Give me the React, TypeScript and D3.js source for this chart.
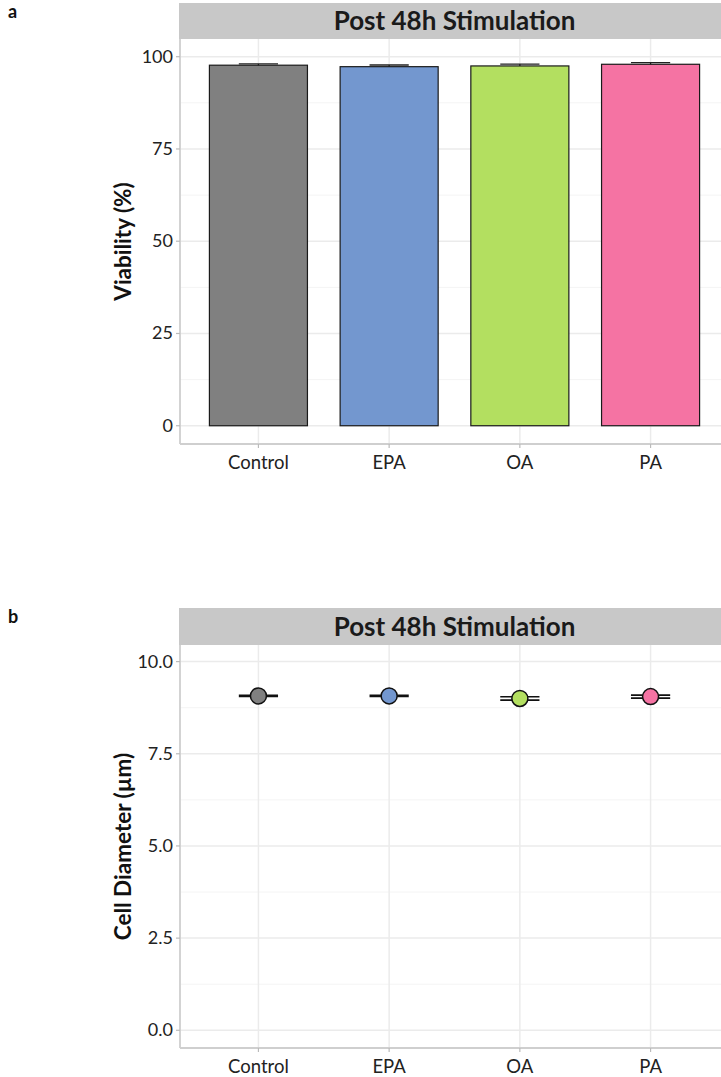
import React, { useEffect, useRef } from "react";
import * as d3 from "d3";

const groups = ["Control", "EPA", "OA", "PA"];
const colors = ["#808080", "#7397cf", "#b3df60", "#f573a3"];

const viability = [97.7, 97.3, 97.5, 97.95];
const viabilityErr = [0.35, 0.45, 0.5, 0.45];
const viabilityTicks = [0, 25, 50, 75, 100];

const diameter = [9.07, 9.07, 9.0, 9.05];
const diameterErr = [0.015, 0.015, 0.045, 0.04];
const diameterTicks = [0, 2.5, 5, 7.5, 10];

const stripTitle = "Post 48h Stimulation";
const font = "Lato, 'Open Sans', sans-serif";

export default function App() {
  const ref = useRef<SVGSVGElement>(null);

  useEffect(() => {
    document.body.style.margin = "0";
    const svg = d3.select(ref.current);
    svg.selectAll("*").remove();

    const left = 180;
    const right = 729;
    const x = d3.scalePoint<string>().domain(groups).range([left, right]).padding(0.6);
    const step = x.step();

    function panel(
      top: number,
      stripH: number,
      bottom: number,
      domain: [number, number],
      ticks: number[],
      fmt: (d: number) => string,
      title: string,
      letter: string
    ) {
      const g = svg.append("g");
      const y = d3.scaleLinear().domain(domain).range([bottom, top + stripH]);

      g.append("text")
        .attr("x", 8)
        .attr("y", top + 15)
        .attr("font-family", font)
        .attr("font-weight", "bold")
        .attr("font-size", 18)
        .attr("fill", "#111")
        .text(letter);

      // strip
      g.append("rect")
        .attr("x", left - 1)
        .attr("y", top)
        .attr("width", right - left + 1)
        .attr("height", stripH)
        .attr("fill", "#c8c8c8");
      g.append("text")
        .attr("x", (left + right) / 2)
        .attr("y", top + stripH / 2 + 9)
        .attr("text-anchor", "middle")
        .attr("font-family", font)
        .attr("font-weight", "bold")
        .attr("font-size", 26)
        .attr("fill", "#1a1a1a")
        .text(title);

      // minor grid
      const minor = ticks.slice(0, -1).map((t, i) => (t + ticks[i + 1]) / 2);
      g.selectAll(".minor")
        .data(minor)
        .enter()
        .append("line")
        .attr("x1", left)
        .attr("x2", right)
        .attr("y1", (d) => y(d))
        .attr("y2", (d) => y(d))
        .attr("stroke", "#f4f4f4")
        .attr("stroke-width", 1);
      g.selectAll(".major")
        .data(ticks)
        .enter()
        .append("line")
        .attr("x1", left)
        .attr("x2", right)
        .attr("y1", (d) => y(d))
        .attr("y2", (d) => y(d))
        .attr("stroke", "#ebebeb")
        .attr("stroke-width", 1.5);
      g.selectAll(".vgrid")
        .data(groups)
        .enter()
        .append("line")
        .attr("x1", (d) => x(d)!)
        .attr("x2", (d) => x(d)!)
        .attr("y1", top + stripH)
        .attr("y2", bottom)
        .attr("stroke", "#ebebeb")
        .attr("stroke-width", 1.5);

      // axes
      g.append("line")
        .attr("x1", left)
        .attr("x2", left)
        .attr("y1", top + stripH)
        .attr("y2", bottom)
        .attr("stroke", "#cfcfcf")
        .attr("stroke-width", 1.8);
      g.append("line")
        .attr("x1", left)
        .attr("x2", right)
        .attr("y1", bottom)
        .attr("y2", bottom)
        .attr("stroke", "#cfcfcf")
        .attr("stroke-width", 1.8);

      g.selectAll(".ytick")
        .data(ticks)
        .enter()
        .append("line")
        .attr("x1", left - 4)
        .attr("x2", left)
        .attr("y1", (d) => y(d))
        .attr("y2", (d) => y(d))
        .attr("stroke", "#bbbbbb")
        .attr("stroke-width", 1.2);
      g.selectAll(".ylab")
        .data(ticks)
        .enter()
        .append("text")
        .attr("x", left - 7)
        .attr("y", (d) => y(d) + 6)
        .attr("text-anchor", "end")
        .attr("font-family", font)
        .attr("font-size", 18)
        .attr("fill", "#222")
        .text((d) => fmt(d));

      g.selectAll(".xtick")
        .data(groups)
        .enter()
        .append("line")
        .attr("x1", (d) => x(d)!)
        .attr("x2", (d) => x(d)!)
        .attr("y1", bottom)
        .attr("y2", bottom + 4)
        .attr("stroke", "#bbbbbb")
        .attr("stroke-width", 1.2);
      g.selectAll(".xlab")
        .data(groups)
        .enter()
        .append("text")
        .attr("x", (d) => x(d)!)
        .attr("y", bottom + 25)
        .attr("text-anchor", "middle")
        .attr("font-family", font)
        .attr("font-size", 18.5)
        .attr("fill", "#222")
        .text((d) => d);

      return { g, y };
    }

    // panel a
    const a = panel(3, 36, 444, [-4.95, 104.8], viabilityTicks, (d) => String(d), stripTitle, "a");
    a.g.append("text")
      .attr("transform", `translate(131,${(39 + 444) / 2}) rotate(-90)`)
      .attr("text-anchor", "middle")
      .attr("font-family", font)
      .attr("font-weight", "bold")
      .attr("font-size", 22.5)
      .attr("fill", "#111")
      .text("Viability (%)");

    const capW = 0.3 * step;
    a.g.selectAll(".err")
      .data(groups)
      .enter()
      .append("path")
      .attr("d", (d, i) => {
        const cx = x(d)!;
        const hi = a.y(viability[i] + viabilityErr[i]);
        const lo = a.y(viability[i] - viabilityErr[i]);
        return `M${cx - capW / 2},${hi}H${cx + capW / 2}M${cx},${hi}V${lo}`;
      })
      .attr("stroke", "#222")
      .attr("stroke-width", 1.3)
      .attr("fill", "none");

    const barW = 0.75 * step;
    a.g.selectAll(".bar")
      .data(groups)
      .enter()
      .append("rect")
      .attr("x", (d) => x(d)! - barW / 2)
      .attr("y", (d, i) => a.y(viability[i]))
      .attr("width", barW)
      .attr("height", (d, i) => a.y(0) - a.y(viability[i]))
      .attr("fill", (d, i) => colors[i])
      .attr("stroke", "#1a1a1a")
      .attr("stroke-width", 1.2);

    // panel b
    const b = panel(608, 37, 1048, [-0.48, 10.45], diameterTicks, (d) => d.toFixed(1), stripTitle, "b");
    b.g.append("text")
      .attr("transform", `translate(131,${(645 + 1048) / 2}) rotate(-90)`)
      .attr("text-anchor", "middle")
      .attr("font-family", font)
      .attr("font-weight", "bold")
      .attr("font-size", 22.5)
      .attr("fill", "#111")
      .text("Cell Diameter (µm)");

    b.g.selectAll(".err")
      .data(groups)
      .enter()
      .append("path")
      .attr("d", (d, i) => {
        const cx = x(d)!;
        const hi = b.y(diameter[i] + diameterErr[i]);
        const lo = b.y(diameter[i] - diameterErr[i]);
        return `M${cx - capW / 2},${hi}H${cx + capW / 2}M${cx - capW / 2},${lo}H${cx + capW / 2}M${cx},${hi}V${lo}`;
      })
      .attr("stroke", "#111")
      .attr("stroke-width", 1.6)
      .attr("fill", "none");

    b.g.selectAll(".pt")
      .data(groups)
      .enter()
      .append("circle")
      .attr("cx", (d) => x(d)!)
      .attr("cy", (d, i) => b.y(diameter[i]))
      .attr("r", 8)
      .attr("fill", (d, i) => colors[i])
      .attr("stroke", "#111")
      .attr("stroke-width", 1.5);
  }, []);

  return (
    <svg
      ref={ref}
      width={721}
      height={1077}
      style={{ position: "absolute", left: 0, top: 0, background: "#fff" }}
    />
  );
}
